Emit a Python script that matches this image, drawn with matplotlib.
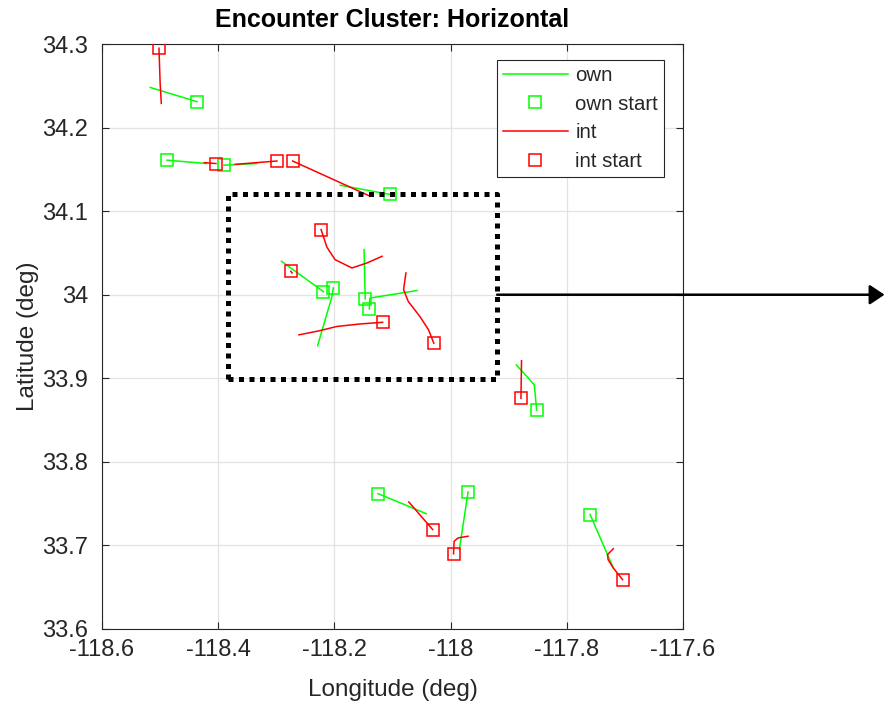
import matplotlib
matplotlib.use("Agg")
import matplotlib.pyplot as plt
from matplotlib.lines import Line2D
from matplotlib.ticker import FuncFormatter

plt.rcParams["font.family"] = ["Liberation Sans", "DejaVu Sans"]
plt.rcParams["axes.unicode_minus"] = False

# Ownship tracks (first point is the start of the track)
own_lon = [
    [-118.4365, -118.517],
    [-118.488, -118.420],
    [-118.390, -118.334],
    [-118.104, -118.190],
    [-118.219, -118.291],
    [-118.202, -118.205, -118.229],
    [-118.147, -118.149],
    [-118.140, -118.139, -118.058],
    [-117.852, -117.856, -117.866, -117.887],
    [-117.760, -117.720],
    [-118.125, -118.042],
    [-117.970, -117.985],
]
own_lat = [
    [34.231, 34.248],
    [34.161, 34.157],
    [34.155, 34.157],
    [34.120, 34.131],
    [34.0037, 34.040],
    [34.008, 33.996, 33.939],
    [33.995, 34.054],
    [33.983, 33.996, 34.005],
    [33.862, 33.892, 33.900, 33.916],
    [33.737, 33.673],
    [33.762, 33.738],
    [33.764, 33.695],
]

# Intruder tracks (first point is the start of the track)
int_lon = [
    [-118.502, -118.500, -118.498],
    [-118.404, -118.424],
    [-118.299, -118.371],
    [-118.272, -118.139],
    [-118.275, -118.273],
    [-118.223, -118.213, -118.199, -118.170, -118.144, -118.118],
    [-118.117, -118.156, -118.196, -118.225, -118.261],
    [-118.029, -118.038, -118.053, -118.073, -118.081, -118.077],
    [-117.879, -117.878],
    [-117.704, -117.720, -117.729, -117.730, -117.720],
    [-118.031, -118.072],
    [-117.995, -117.994, -117.987, -117.970],
]
int_lat = [
    [34.295, 34.253, 34.229],
    [34.157, 34.158],
    [34.160, 34.156],
    [34.160, 34.118],
    [34.028, 34.026],
    [34.078, 34.057, 34.042, 34.032, 34.038, 34.046],
    [33.967, 33.965, 33.962, 33.957, 33.952],
    [33.942, 33.958, 33.974, 33.992, 34.006, 34.026],
    [33.876, 33.921],
    [33.659, 33.673, 33.683, 33.689, 33.696],
    [33.719, 33.752],
    [33.690, 33.705, 33.709, 33.711],
]

# Zoom region outline (lon/lat corners) and arrow height
zoom_lon = [-118.383, -117.920]
zoom_lat = [33.899, 34.120]
arrow_lat = 34.0

x_ticks = [-118.6, -118.4, -118.2, -118.0, -117.8, -117.6]
y_ticks = [33.6, 33.7, 33.8, 33.9, 34.0, 34.1, 34.2, 34.3]

GREEN = "#00ff00"
RED = "#ff0000"
TXT = "#262626"

fig = plt.figure(figsize=(8.85, 7.02), dpi=100)
ax = fig.add_axes([0.1153, 0.104, 0.6565, 0.8333])

for lo, la in zip(own_lon, own_lat):
    ax.plot(lo, la, color=GREEN, lw=1.1, zorder=3)
for lo, la in zip(own_lon, own_lat):
    ax.plot(lo[0], la[0], "s", mfc="none", mec=GREEN, ms=8.5, mew=1.1, zorder=4)
for lo, la in zip(int_lon, int_lat):
    ax.plot(lo, la, color=RED, lw=1.1, zorder=5)
for lo, la in zip(int_lon, int_lat):
    ax.plot(lo[0], la[0], "s", mfc="none", mec=RED, ms=8.5, mew=1.1, zorder=6)

# dotted outline around the central cluster
x0, x1 = zoom_lon
y0, y1 = zoom_lat
ax.plot([x0, x1, x1, x0, x0], [y0, y0, y1, y1, y0], color="black", lw=3.6,
        linestyle=(0, (1, 1.1)), dash_capstyle="butt", zorder=7, clip_on=False)

# arrow leading out of the outline to the right edge of the figure
ax.annotate("", xy=(0.9995, arrow_lat), xycoords=("figure fraction", "data"),
            xytext=(x1, arrow_lat), textcoords="data",
            arrowprops=dict(arrowstyle="-|>,head_length=0.45,head_width=0.3",
                            mutation_scale=20, lw=1.8, color="black",
                            shrinkA=0, shrinkB=0),
            annotation_clip=False, zorder=8)

ax.set_xlim(-118.6, -117.6)
ax.set_ylim(33.6, 34.3)
ax.set_xticks(x_ticks)
ax.set_yticks(y_ticks)
fmt = FuncFormatter(lambda v, p: f"{v:g}")
ax.xaxis.set_major_formatter(fmt)
ax.yaxis.set_major_formatter(fmt)
ax.grid(True, color="#e3e3e3", lw=0.9)
ax.set_axisbelow(True)
ax.tick_params(direction="in", length=5, width=0.8, colors=TXT,
               labelsize=17, top=True, right=True)
ax.tick_params(axis="x", pad=7)
ax.tick_params(axis="y", pad=10)
for s in ax.spines.values():
    s.set_color(TXT)
    s.set_linewidth(0.8)

ax.set_title("Encounter Cluster: Horizontal", fontsize=18, fontweight="bold",
             color="black", pad=12)
ax.set_xlabel("Longitude (deg)", fontsize=17.5, color=TXT, labelpad=13)
ax.set_ylabel("Latitude (deg)", fontsize=17.5, color=TXT, labelpad=2)

handles = [
    Line2D([], [], color=GREEN, lw=1.1),
    Line2D([], [], ls="none", marker="s", mfc="none", mec=GREEN, ms=8.5, mew=1.1),
    Line2D([], [], color=RED, lw=1.1),
    Line2D([], [], ls="none", marker="s", mfc="none", mec=RED, ms=8.5, mew=1.1),
]
leg = ax.legend(handles, ["own", "own start", "int", "int start"],
                loc="upper left", bbox_to_anchor=(0.679, 0.973),
                fontsize=14.7, frameon=True, fancybox=False, framealpha=1,
                edgecolor=TXT, handlelength=3.2, handletextpad=0.35,
                labelspacing=0.47, borderpad=0.3, borderaxespad=0)
leg.get_frame().set_linewidth(0.8)
for t in leg.get_texts():
    t.set_color(TXT)

fig.savefig("out.png", dpi=100, facecolor="white")
